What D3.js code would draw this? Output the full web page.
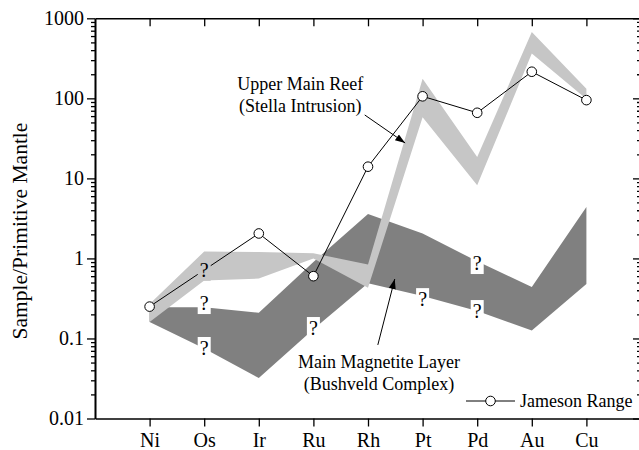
<!DOCTYPE html>
<html>
<head>
<meta charset="utf-8">
<script src="https://cdn.jsdelivr.net/npm/d3@7"></script>
<style>
  body { margin: 0; background: #fff; }
  svg text { font-family: "Liberation Serif", "Times New Roman", serif; fill: #000; }
</style>
</head>
<body>
<div id="chart"></div>
<script>
// données
const elements = ["Ni", "Os", "Ir", "Ru", "Rh", "Pt", "Pd", "Au", "Cu"];
const jameson = [0.25, null, 2.05, 0.6, 14, 106, 66, 215, 95];
const reefUpper = [0.27, 1.22, 1.2, 1.16, 0.84, 176, 18.5, 675, 132];
const reefLower = [0.16, 0.53, 0.56, 1.0, 0.43, 58, 8.2, 362, 98];
const magUpper = [0.245, 0.245, 0.21, 0.9, 3.6, 2.05, 0.92, 0.44, 4.4];
const magLower = [0.16, 0.075, 0.032, 0.13, 0.49, 0.34, 0.22, 0.126, 0.48];
const yTicks = [0.01, 0.1, 1, 10, 100, 1000];
// points d'interrogation : élément, valeur, fond
const qElements = ["Os", "Os", "Os", "Ru", "Pt", "Pd", "Pd"];
const qValues = [0.72, 0.277, 0.076, 0.135, 0.31, 0.876, 0.22];
const qOnReef = [true, false, false, false, false, false, false];

const W = 639, H = 450;
const lightGrey = "#c6c6c6", darkGrey = "#808080";

const svg = d3.select("#chart").append("svg")
    .attr("width", W).attr("height", H);

// échelles
const x = d3.scalePoint().domain(elements).range([95, 641]).padding(1);
const y = d3.scaleLog().domain([0.01, 1000]).range([418.5, 18.3]);
const xi = i => x(elements[0]) + i * x.step(); // position fractionnaire

const minorTicks = [];
yTicks.slice(0, -1).forEach(t => { for (let k = 2; k <= 9; k++) minorTicks.push(t * k); });

// --- bandes ---
const area = d3.area()
    .x((d, i) => x(elements[i]))
    .y0(d => y(d[0]))
    .y1(d => y(d[1]));

svg.append("path")
    .datum(magLower.map((v, i) => [v, magUpper[i]]))
    .attr("d", area)
    .attr("fill", darkGrey);

svg.append("path")
    .datum(reefLower.map((v, i) => [v, reefUpper[i]]))
    .attr("d", area)
    .attr("fill", lightGrey);

// --- ligne Jameson Range ---
const pts = jameson.map((v, i) => ({ el: elements[i], v })).filter(d => d.v !== null);
svg.append("path")
    .datum(pts)
    .attr("d", d3.line().x(d => x(d.el)).y(d => y(d.v)))
    .attr("fill", "none").attr("stroke", "#000").attr("stroke-width", 1);

// --- points d'interrogation ---
const qs = svg.append("g").selectAll("g")
    .data(qElements.map((el, i) => ({ el, v: qValues[i], reef: qOnReef[i] })))
    .join("g")
    .attr("transform", d => `translate(${x(d.el)},${y(d.v)})`);
qs.append("rect")
    .attr("x", -6.5).attr("y", -11).attr("width", 13).attr("height", 22)
    .attr("fill", d => d.reef ? lightGrey : "#fff");
qs.append("text")
    .attr("text-anchor", "middle").attr("y", 7)
    .style("font-size", "20px")
    .text("?");

svg.append("g").selectAll("circle")
    .data(pts)
    .join("circle")
    .attr("cx", d => x(d.el)).attr("cy", d => y(d.v)).attr("r", 4.8)
    .attr("fill", "#fff").attr("stroke", "#000").attr("stroke-width", 1);

// --- axes ---
function styleAxis(g) {
    g.selectAll(".domain").attr("stroke", "#000").attr("stroke-width", 1.6);
    g.selectAll(".tick line").attr("stroke", "#000").attr("stroke-width", 1.3);
    g.selectAll("text").style("font-size", "20px").attr("font-family", null);
}

svg.append("g")
    .attr("transform", "translate(95,0)")
    .call(d3.axisLeft(y).tickValues(minorTicks).tickSize(4).tickSizeOuter(0).tickFormat(""))
    .call(styleAxis);
svg.append("g")
    .attr("transform", "translate(95,0)")
    .call(d3.axisLeft(y).tickValues(yTicks).tickSize(8).tickSizeOuter(0).tickPadding(3)
        .tickFormat(d => d >= 1 ? d3.format("d")(d) : String(d)))
    .call(styleAxis);

svg.append("g")
    .attr("transform", "translate(641,0)")
    .call(d3.axisLeft(y).tickValues(minorTicks).tickSize(4).tickSizeOuter(0).tickFormat(""))
    .call(styleAxis);
svg.append("g")
    .attr("transform", "translate(641,0)")
    .call(d3.axisLeft(y).tickValues(yTicks).tickSize(8).tickSizeOuter(0).tickFormat(""))
    .call(styleAxis);

svg.append("g")
    .attr("transform", `translate(0,${y(0.01)})`)
    .call(d3.axisBottom(x).tickSize(8).tickSizeOuter(0).tickPadding(6))
    .call(styleAxis);
svg.append("g")
    .attr("transform", `translate(0,${y(1000)})`)
    .call(d3.axisTop(x).tickSize(-8).tickSizeOuter(0).tickFormat(""))
    .call(styleAxis);

// titre de l'axe Y
svg.append("text")
    .attr("transform", "translate(27,231) rotate(-90)")
    .attr("text-anchor", "middle")
    .style("font-size", "21.5px")
    .text("Sample/Primitive Mantle");

// --- annotations ---
svg.append("defs").append("marker")
    .attr("id", "arrow").attr("viewBox", "0 0 10 10")
    .attr("refX", 10).attr("refY", 5)
    .attr("markerWidth", 10).attr("markerHeight", 10)
    .attr("markerUnits", "userSpaceOnUse")
    .attr("orient", "auto")
    .append("path").attr("d", "M0,1.5 L10,5 L0,8.5 Z").attr("fill", "#000");

const notes = [
    { lines: ["Upper Main Reef", "(Stella Intrusion)"], tx: 2.76, ty: 90,
      from: [3.94, 62], to: [4.68, 27.7] },
    { lines: ["Main Magnetite Layer", "(Bushveld Complex)"], tx: 4.2, ty: 368,
      from: [4.18, 0.083], to: [4.49, 0.553] }
];
notes.forEach(n => {
    n.lines.forEach((t, k) => {
        svg.append("text")
            .attr("x", xi(n.tx)).attr("y", n.ty + k * 21.5)
            .attr("text-anchor", "middle")
            .style("font-size", "18px")
            .text(t);
    });
    svg.append("line")
        .attr("x1", xi(n.from[0])).attr("y1", y(n.from[1]))
        .attr("x2", xi(n.to[0])).attr("y2", y(n.to[1]))
        .attr("stroke", "#000").attr("stroke-width", 1)
        .attr("marker-end", "url(#arrow)");
});

// --- légende ---
const leg = svg.append("g").attr("transform", "translate(466,401)");
leg.append("line").attr("x1", 0).attr("x2", 49).attr("stroke", "#000").attr("stroke-width", 1);
leg.append("circle").attr("cx", 24.5).attr("r", 4.8)
    .attr("fill", "#fff").attr("stroke", "#000");
leg.append("text").attr("x", 54).attr("y", 6).style("font-size", "18px").text("Jameson Range");
</script>
</body>
</html>
